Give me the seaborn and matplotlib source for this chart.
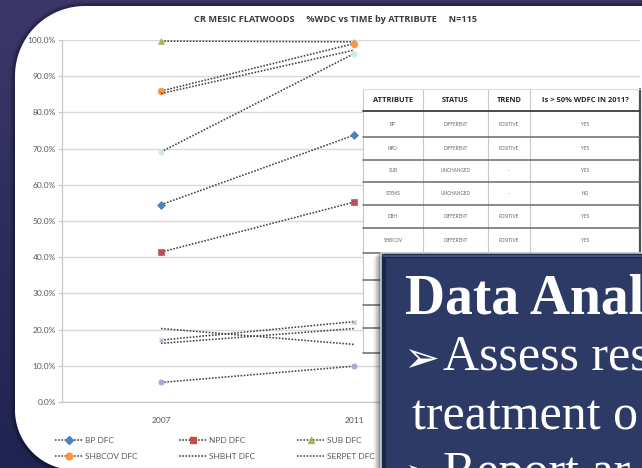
import numpy as np
import pandas as pd
import matplotlib
matplotlib.use("Agg")
import matplotlib.pyplot as plt
from matplotlib.patches import Polygon, Rectangle
from matplotlib.lines import Line2D
from matplotlib.ticker import PercentFormatter
import seaborn as sns

# ---------------- data ----------------
years = ["2007", "2011"]
series_names = ["BP DFC", "NPD DFC", "SUB DFC", "STEMS DFC", "DBH DFC",
                "SHBCOV DFC", "SHBHT DFC", "SERPET DFC", "SHBDEN DFC", "LITTER DFC"]
bp_dfc = [54.5, 73.7]
npd_dfc = [41.4, 55.2]
sub_dfc = [99.7, 99.5]
stems_dfc = [17.1, 22.2]
dbh_dfc = [69.1, 96.2]
shbcov_dfc = [85.9, 99.0]
shbht_dfc = [85.2, 97.2]
serpet_dfc = [16.2, 20.3]
shbden_dfc = [20.3, 15.9]
litter_dfc = [5.4, 9.9]
series_values = [bp_dfc, npd_dfc, sub_dfc, stems_dfc, dbh_dfc,
                 shbcov_dfc, shbht_dfc, serpet_dfc, shbden_dfc, litter_dfc]
legend_rows = [["BP DFC", "NPD DFC", "SUB DFC"],
               ["SHBCOV DFC", "SHBHT DFC", "SERPET DFC"]]
y_ticks = list(range(0, 101, 10))

title_text = "CR MESIC FLATWOODS     %WDC vs TIME by ATTRIBUTE     N=115"

table_header = ["ATTRIBUTE", "STATUS", "TREND", "Is > 50% WDFC IN 2011?"]
table_attribute = ["BP", "NPD", "SUB", "STEMS", "DBH", "SHBCOV"]
table_status = ["DIFFERENT", "DIFFERENT", "UNCHANGED", "UNCHANGED", "DIFFERENT", "DIFFERENT"]
table_trend = ["POSITIVE", "POSITIVE", "-", "-", "POSITIVE", "POSITIVE"]
table_over50 = ["YES", "YES", "YES", "NO", "YES", "YES"]

box_title = "Data Anal"
box_lines = ["Assess res", "treatment o", "Report ar"]

# ---------------- styles ----------------
marker_styles = {
    "BP DFC": ("D", "#4F81BD", 4.2),
    "NPD DFC": ("s", "#C0504D", 4.8),
    "SUB DFC": ("^", "#9BBB59", 4.8),
    "STEMS DFC": ("x", "#b9b5dd", 3.5),
    "DBH DFC": ("o", "#d3e6f0", 3.8),
    "SHBCOV DFC": ("o", "#F79646", 4.8),
    "SHBHT DFC": (None, None, 0),
    "SERPET DFC": (None, None, 0),
    "SHBDEN DFC": (None, None, 0),
    "LITTER DFC": ("o", "#aaa7d8", 3.8),
}
line_color = "#404040"
dot_style = (0, (1, 1))

df = pd.DataFrame([
    {"series": name, "year": yr, "pos": i, "value": v}
    for name, vals in zip(series_names, series_values)
    for i, (yr, v) in enumerate(zip(years, vals))
])

sns.set_style("white")
plt.rcParams["font.family"] = ["Lato", "DejaVu Sans"]
bold_font = ["Open Sans", "DejaVu Sans"]


def rounded_panel(x0, y0, x1, y1, r_tl, r_tr, r_br, r_bl, n=40):
    """Polygon outline of a rectangle with individually rounded corners (y down)."""
    pts = []
    corners = [((x0 + r_tl, y0 + r_tl), r_tl, np.pi, 1.5 * np.pi),
               ((x1 - r_tr, y0 + r_tr), r_tr, 1.5 * np.pi, 2 * np.pi),
               ((x1 - r_br, y1 - r_br), r_br, 0, 0.5 * np.pi),
               ((x0 + r_bl, y1 - r_bl), r_bl, 0.5 * np.pi, np.pi)]
    for (cx, cy), r, a0, a1 in corners:
        t = np.linspace(a0, a1, n)
        pts.extend(zip(cx + r * np.cos(t), cy + r * np.sin(t)))
    return np.array(pts)


W, H = 642, 468
fig = plt.figure(figsize=(W / 100, H / 100), dpi=100)

# background layer in pixel coordinates
bg = fig.add_axes([0, 0, 1, 1], zorder=0)
bg.set_xlim(0, W)
bg.set_ylim(H, 0)
bg.axis("off")
grad = np.linspace(0, 1, H)[:, None, None]
top_c = np.array([0x3b, 0x38, 0x69]) / 255
bot_c = np.array([0x1f, 0x23, 0x50]) / 255
img = np.repeat(top_c * (1 - grad) + bot_c * grad, W, axis=1)
bg.imshow(img, extent=(0, W, H, 0), aspect="auto", zorder=0)

# soft shadow and white slide panel
for k, a in enumerate([0.05, 0.07, 0.09, 0.12]):
    off = 5 - k
    bg.add_patch(Polygon(rounded_panel(15 - off, 6 - off, 715 + off, 470 + off,
                                       70 + off, 60 + off, 60 + off, 60 + off),
                         closed=True, fc="black", ec="none", alpha=a, zorder=1))
panel = Polygon(rounded_panel(15, 6, 715, 470, 70, 60, 60, 60),
                closed=True, fc="white", ec="none", zorder=2)
bg.add_patch(panel)
bg.text(335, 19, title_text, ha="center", va="center", fontsize=6.6,
        fontweight="bold", color="#3a3a3a", family=bold_font, zorder=3)

# ---------------- chart ----------------
px_left, px_right, px_top, px_bottom = 62, 640, 40, 402
ax = fig.add_axes([px_left / W, (H - px_bottom) / H,
                   (px_right - px_left) / W, (px_bottom - px_top) / H], zorder=1)
ax.set_facecolor("none")

for name in series_names:
    sub = df[df["series"] == name]
    mk, mc, ms = marker_styles[name]
    kws = dict(color=line_color, linestyle=dot_style, linewidth=1.15,
               estimator=None, sort=False, ax=ax, legend=False, clip_on=False)
    if mk is not None:
        kws.update(marker=mk, markersize=ms, markerfacecolor=mc,
                   markeredgecolor=mc, markeredgewidth=1.0 if mk == "x" else 0.5)
    sns.lineplot(data=sub, x="pos", y="value", **kws)

ax.set_xlim(-(161 - px_left) / 193, (px_right - 161) / 193)
ax.set_ylim(0, 100)
ax.set_yticks(y_ticks)
ax.yaxis.set_major_formatter(PercentFormatter(xmax=100, decimals=1))
ax.set_xticks([0, 1])
ax.set_xticklabels(years)
ax.set_xlabel("")
ax.set_ylabel("")
ax.yaxis.grid(True, color="#d9d9d9", linewidth=1.0)
ax.xaxis.grid(False)
ax.set_axisbelow(True)
for s in ["top", "right"]:
    ax.spines[s].set_visible(False)
for s in ["left", "bottom"]:
    ax.spines[s].set_color("#c8c8c8")
    ax.spines[s].set_linewidth(0.9)
ax.tick_params(axis="y", length=3, width=0.8, color="#c8c8c8", labelsize=6,
               labelcolor="#595959", pad=1.5, left=True)
ax.tick_params(axis="x", length=0, labelsize=6, labelcolor="#595959", pad=11)
for t in ax.get_yticklabels():
    t.set_clip_path(panel)


def legend_handle(name):
    mk, mc, ms = marker_styles[name]
    if mk is None:
        return Line2D([], [], color=line_color, linestyle=dot_style, linewidth=1.15)
    return Line2D([], [], color=line_color, linestyle=dot_style, linewidth=1.15,
                  marker=mk, markersize=ms, markerfacecolor=mc, markeredgecolor=mc)


# legend fills column by column, so interleave the two rows
legend_order = [name for col in zip(*legend_rows) for name in col]
ax.legend([legend_handle(n) for n in legend_order], legend_order,
          loc="upper left", bbox_to_anchor=(55, 437), bbox_transform=bg.transData,
          ncol=3, frameon=False, fontsize=6, labelcolor="#595959",
          handlelength=3.3, handletextpad=0.3, columnspacing=5.0,
          labelspacing=1.1, borderpad=0, borderaxespad=0)

# ---------------- overlay: table and text box ----------------
fg = fig.add_axes([0, 0, 1, 1], zorder=3)
fg.set_facecolor("none")
fg.set_xlim(0, W)
fg.set_ylim(H, 0)
fg.axis("off")

tx0, tx1 = 363, 640
col_x = [363, 423, 488, 530, 640]
row_y = [89, 111, 137, 160, 182, 205, 228, 253, 280, 305, 328, 353]
fg.add_patch(Rectangle((tx0, row_y[0]), tx1 - tx0, row_y[-1] - row_y[0],
                       fc="white", ec="none", zorder=1))
for xv in col_x[1:-1]:
    fg.plot([xv, xv], [row_y[0], row_y[7]], color="#c8c8c8", lw=0.8, zorder=2)
fg.plot([tx0, tx0], [row_y[0], row_y[-1]], color="#c8c8c8", lw=0.8, zorder=2)
fg.plot([tx1, tx1], [row_y[0], row_y[7]], color="#505050", lw=1.6, zorder=2)
fg.plot([tx0, tx1], [row_y[0], row_y[0]], color="#dcdcdc", lw=0.8, zorder=2)
fg.plot([tx0, tx1], [row_y[1], row_y[1]], color="#3a3a3a", lw=1.3, zorder=2)
for yv in row_y[2:]:
    fg.plot([tx0, tx1], [yv, yv], color="#6a6a6a", lw=1.1, zorder=2)

for j, h in enumerate(table_header):
    fg.text((col_x[j] + col_x[j + 1]) / 2, (row_y[0] + row_y[1]) / 2 + 1, h,
            ha="center", va="center", fontsize=5.4, fontweight="bold",
            color="#262626", family=bold_font, zorder=3)
for i, row in enumerate(zip(table_attribute, table_status, table_trend, table_over50)):
    for j, val in enumerate(row):
        fg.text((col_x[j] + col_x[j + 1]) / 2, (row_y[i + 1] + row_y[i + 2]) / 2, val,
                ha="center", va="center", fontsize=3.4, color="#666666", zorder=3)

# text box with shadow
bx, by = 381, 253
for k, a in enumerate([0.05, 0.07, 0.10, 0.14, 0.18]):
    fg.add_patch(Rectangle((bx - 8 + 1.6 * k, by + 4 - k), 300, 300,
                           fc="black", ec="none", alpha=a, zorder=4))
fg.add_patch(Rectangle((bx, by), 300, 300, fc="#2c3a65", ec="#cfd3dc", lw=1.2, zorder=5))
fg.add_patch(Rectangle((bx + 3, by + 3), 300, 300, fc="none", ec="#1c2748", lw=3.0, zorder=5))
fg.add_patch(Rectangle((bx + 1.5, by + 1.5), 300, 2.5, fc="#44527f", ec="none", zorder=5))

serif = ["Liberation Serif", "DejaVu Serif"]
fg.text(405, 313, box_title, ha="left", va="baseline", fontsize=40,
        fontweight="bold", color="white", family=serif, zorder=6)
fg.text(403, 372, "\u27a2", ha="left", va="baseline", fontsize=31,
        color="white", family=["DejaVu Sans"], zorder=6)
fg.text(443, 370, box_lines[0], ha="left", va="baseline", fontsize=36,
        color="white", family=serif, zorder=6)
fg.text(412, 430, box_lines[1], ha="left", va="baseline", fontsize=36,
        color="white", family=serif, zorder=6)
fg.text(403, 488, "\u27a2", ha="left", va="baseline", fontsize=31,
        color="white", family=["DejaVu Sans"], zorder=6)
fg.text(443, 486, box_lines[2], ha="left", va="baseline", fontsize=36,
        color="white", family=serif, zorder=6)

fig.savefig("out.png", dpi=100)
